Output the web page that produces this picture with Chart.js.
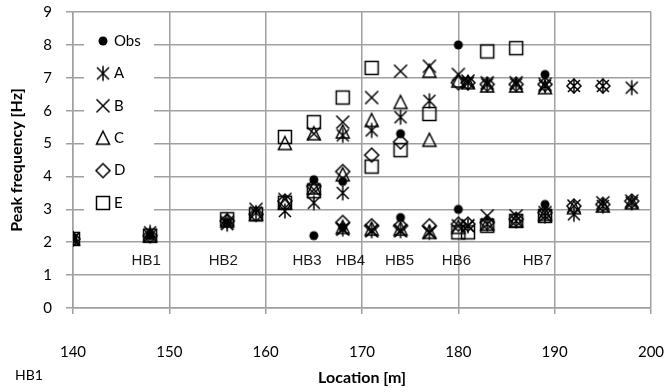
<!DOCTYPE html>
<html>
<head>
<meta charset="utf-8">
<script src="https://cdn.jsdelivr.net/npm/chart.js@4.4.1/dist/chart.umd.min.js"></script>
<style>
  html, body { margin: 0; padding: 0; background: #fff; }
  #wrap { width: 667px; height: 392px; }
</style>
</head>
<body>
<div id="wrap"><canvas id="c" width="667" height="392"></canvas></div>
<script>
// Peak frequency per location, one [location m, frequency Hz] pair per point
const obsPoints = [[140,2.1],[148,2.2],[156,2.6],[165,3.9],[165,2.2],[168,3.85],[168,2.45],
  [174,5.3],[174,2.75],[180,8.0],[180,3.0],[189,7.1],[189,3.15]];
const aPoints = [[140,2.1],[148,2.3],[156,2.55],[159,2.9],[162,2.95],[165,3.2],[168,5.25],[168,3.5],
  [168,2.4],[171,5.4],[171,2.35],[174,5.8],[174,2.35],[177,6.3],[177,2.3],[181,6.85],[181,2.5],
  [183,6.8],[183,2.55],[186,6.8],[186,2.65],[189,6.75],[189,2.8],[192,6.75],[192,2.85],
  [195,6.75],[195,3.1],[198,6.7],[198,3.2]];
const bPoints = [[140,2.1],[148,2.2],[156,2.6],[159,3.0],[162,3.3],[165,5.3],[165,3.6],[168,5.65],
  [168,2.4],[171,6.4],[171,2.35],[174,7.2],[174,2.35],[177,7.35],[177,2.3],[180,7.1],[180,2.5],
  [181,6.9],[181,2.5],[183,6.85],[183,2.8],[186,6.85],[186,2.8],[189,6.8],[189,2.9],[192,3.1],
  [195,3.2],[198,3.25]];
const cPoints = [[140,2.1],[148,2.2],[156,2.65],[159,2.85],[162,5.0],[162,3.2],[165,5.3],[165,3.65],
  [168,5.35],[168,4.05],[168,2.45],[171,5.7],[171,2.4],[174,6.25],[174,2.4],[177,7.2],[177,5.1],
  [177,2.3],[180,6.9],[180,2.45],[181,6.85],[183,6.75],[183,2.55],[186,6.75],[186,2.65],
  [189,6.7],[189,2.85],[192,3.05],[195,3.1],[198,3.2]];
const dPoints = [[140,2.1],[148,2.2],[156,2.65],[159,2.85],[162,3.25],[165,3.7],[168,4.15],[168,2.6],
  [171,4.65],[171,2.5],[174,5.05],[174,2.5],[177,2.5],[180,6.85],[180,2.55],[181,6.85],[181,2.55],
  [183,6.8],[183,2.6],[186,6.8],[186,2.7],[189,6.8],[189,2.9],[192,6.75],[192,3.1],[195,6.75],
  [195,3.15],[198,3.25]];
const ePoints = [[140,2.1],[148,2.2],[156,2.7],[159,2.85],[162,5.2],[162,3.2],[165,5.65],[165,3.55],
  [168,6.4],[171,7.3],[171,4.3],[174,4.8],[177,5.9],[180,2.3],[181,2.3],[183,7.8],[183,2.5],
  [186,7.9],[186,2.65],[189,2.8]];

const seriesNames = ['Obs', 'A', 'B', 'C', 'D', 'E'];
const seriesMarkers = ['dot', 'star', 'cross', 'triangle', 'diamond', 'square'];
const seriesPoints = [obsPoints, aPoints, bPoints, cPoints, dPoints, ePoints];

// Borehole names and where they sit along the section
const hbNames = ['HB1', 'HB2', 'HB3', 'HB4', 'HB5', 'HB6', 'HB7'];
const hbLocations = [147.6, 155.6, 164.3, 168.8, 173.9, 179.8, 188.2];
const hbLevel = 1.42;
const footNote = 'HB1';

const xMin = 140, xMax = 200, xStep = 10;
const yMin = 0, yMax = 9, yStep = 1;

const GRID = '#a0a0a0';
const TEXT_FONT = 'Lato, "Open Sans", sans-serif';

// Marker glyphs drawn once onto small canvases
function markerImage(kind) {
  const s = 20, c = document.createElement('canvas');
  c.width = s; c.height = s;
  const g = c.getContext('2d');
  const m = s / 2;
  g.strokeStyle = '#000';
  g.fillStyle = '#000';
  g.lineWidth = 1.5;
  g.beginPath();
  switch (kind) {
    case 'dot':
      g.arc(m, m, 4.5, 0, Math.PI * 2);
      g.fill();
      return c;
    case 'star':
      g.moveTo(m - 6, m - 6); g.lineTo(m + 6, m + 6);
      g.moveTo(m + 6, m - 6); g.lineTo(m - 6, m + 6);
      g.moveTo(m, m - 7.5); g.lineTo(m, m + 7.5);
      break;
    case 'cross':
      g.moveTo(m - 6.5, m - 6.5); g.lineTo(m + 6.5, m + 6.5);
      g.moveTo(m + 6.5, m - 6.5); g.lineTo(m - 6.5, m + 6.5);
      break;
    case 'triangle':
      g.moveTo(m, m - 7); g.lineTo(m + 6.5, m + 6); g.lineTo(m - 6.5, m + 6); g.closePath();
      break;
    case 'diamond':
      g.moveTo(m, m - 7); g.lineTo(m + 7, m); g.lineTo(m, m + 7); g.lineTo(m - 7, m); g.closePath();
      break;
    case 'square':
      g.rect(m - 6.5, m - 6.5, 13, 13);
      break;
  }
  g.stroke();
  return c;
}

const datasets = seriesNames.map((name, i) => ({
  label: name,
  data: seriesPoints[i].map(([x, y]) => ({ x, y })),
  pointStyle: markerImage(seriesMarkers[i]),
  pointRadius: 7,
  showLine: false,
  borderColor: '#000',
  backgroundColor: 'transparent'
}));

// Legend stack inside the plot, on a white panel
const innerLegend = {
  id: 'innerLegend',
  beforeDatasetsDraw(chart) {
    const ctx = chart.ctx;
    ctx.save();
    ctx.fillStyle = '#fff';
    ctx.fillRect(84, 25, 70, 195);
    ctx.font = '15px ' + TEXT_FONT;
    ctx.fillStyle = '#000';
    ctx.textBaseline = 'middle';
    ctx.textAlign = 'left';
    chart.data.datasets.forEach((ds, i) => {
      const y = 41 + i * 32.4;
      const img = ds.pointStyle;
      ctx.drawImage(img, 103 - img.width / 2, y - img.height / 2);
      ctx.fillText(ds.label, 114, y);
    });
    ctx.restore();
  }
};

// Borehole names along the section, plus the note under the axis
const boreholeLabels = {
  id: 'boreholeLabels',
  afterDatasetsDraw(chart) {
    const ctx = chart.ctx, xs = chart.scales.x, ys = chart.scales.y;
    ctx.save();
    ctx.font = '15px "Liberation Sans", Arial, sans-serif';
    ctx.fillStyle = '#1a1a1a';
    ctx.textAlign = 'center';
    ctx.textBaseline = 'middle';
    hbNames.forEach((n, i) => {
      ctx.fillText(n, xs.getPixelForValue(hbLocations[i]), ys.getPixelForValue(hbLevel));
    });
    ctx.font = '14px ' + TEXT_FONT;
    ctx.fillStyle = '#000';
    ctx.textAlign = 'left';
    ctx.fillText(footNote, 15, 375);
    ctx.restore();
  }
};

new Chart(document.getElementById('c'), {
  type: 'scatter',
  data: { datasets },
  plugins: [innerLegend, boreholeLabels],
  options: {
    responsive: false,
    animation: false,
    devicePixelRatio: 1,
    layout: { padding: { left: 0, right: 16, top: 12, bottom: 0 } },
    plugins: { legend: { display: false }, tooltip: { enabled: false } },
    scales: {
      x: {
        type: 'linear', min: xMin, max: xMax,
        afterFit(scale) { scale.height = 84; scale.paddingRight = 0; scale.paddingLeft = 0; },
        ticks: { stepSize: xStep, color: '#000', padding: 29, font: { family: TEXT_FONT, size: 15 } },
        grid: { color: GRID, lineWidth: 1.5, tickLength: 6 },
        border: { color: GRID, width: 1.5 },
        title: { display: true, text: 'Location [m]', color: '#000', padding: { top: 0, bottom: 5 },
                 font: { family: TEXT_FONT, size: 16, weight: 'bold' } }
      },
      y: {
        min: yMin, max: yMax,
        afterFit(scale) { scale.width = 73; scale.paddingTop = 0; scale.paddingBottom = 0; },
        ticks: { stepSize: yStep, color: '#000', padding: 14, font: { family: TEXT_FONT, size: 15 } },
        grid: { color: GRID, lineWidth: 1.5, tickLength: 7 },
        border: { color: GRID, width: 1.5 },
        title: { display: true, text: 'Peak frequency [Hz]', color: '#000', padding: { top: 7, bottom: 0 },
                 font: { family: TEXT_FONT, size: 16, weight: 'bold' } }
      }
    }
  }
});
</script>
</body>
</html>
